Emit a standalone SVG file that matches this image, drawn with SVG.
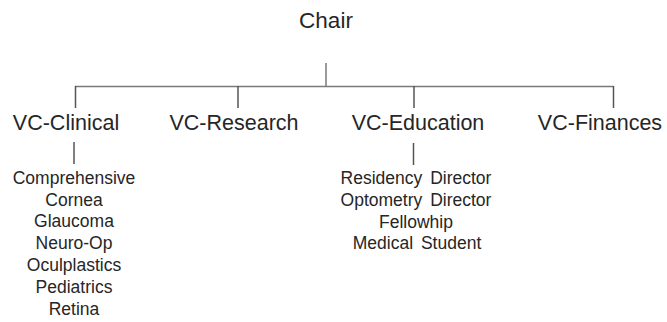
<svg xmlns="http://www.w3.org/2000/svg" width="667" height="322" viewBox="0 0 667 322">
<style>
text{font-family:"Liberation Sans",Arial,sans-serif;fill:#262626;text-anchor:middle}
.top{font-size:22.5px}
.vc{font-size:21.5px}
.sub{font-size:17.5px}
.edu{word-spacing:3px}
.ln{stroke:#7a7a7a;stroke-width:1.5;fill:none}
.dk{stroke:#555;stroke-width:1.5;fill:none}
</style>
<rect width="667" height="322" fill="#fff"/>
<g id="connectors">
<path class="ln" d="M326 63V86.5M75 86.5H613.5"/>
<path class="dk" d="M75.5 86V108M238 86V108M414 86V108M613.5 86V108"/>
<path class="dk" d="M74 142V164M413.5 143V165"/>
</g>
<g id="chair"><text class="top" x="326" y="28">Chair</text></g>
<g id="vc-clinical"><text class="vc" x="66" y="130">VC-Clinical</text></g>
<g id="vc-research"><text class="vc" x="234" y="130">VC-Research</text></g>
<g id="vc-education"><text class="vc" x="418" y="130">VC-Education</text></g>
<g id="vc-finances"><text class="vc" x="600" y="130">VC-Finances</text></g>
<g id="clinical-list">
<text class="sub" x="74" y="184">Comprehensive</text>
<text class="sub" x="74" y="205.5">Cornea</text>
<text class="sub" x="74" y="227">Glaucoma</text>
<text class="sub" x="74" y="249">Neuro-Op</text>
<text class="sub" x="74" y="271">Oculplastics</text>
<text class="sub" x="74" y="293">Pediatrics</text>
<text class="sub" x="74" y="315">Retina</text>
</g>
<g id="education-list">
<text class="sub edu" x="416" y="184">Residency Director</text>
<text class="sub edu" x="416" y="206">Optometry Director</text>
<text class="sub edu" x="416" y="227.5">Fellowhip</text>
<text class="sub edu" x="417" y="249">Medical Student</text>
</g>
</svg>
